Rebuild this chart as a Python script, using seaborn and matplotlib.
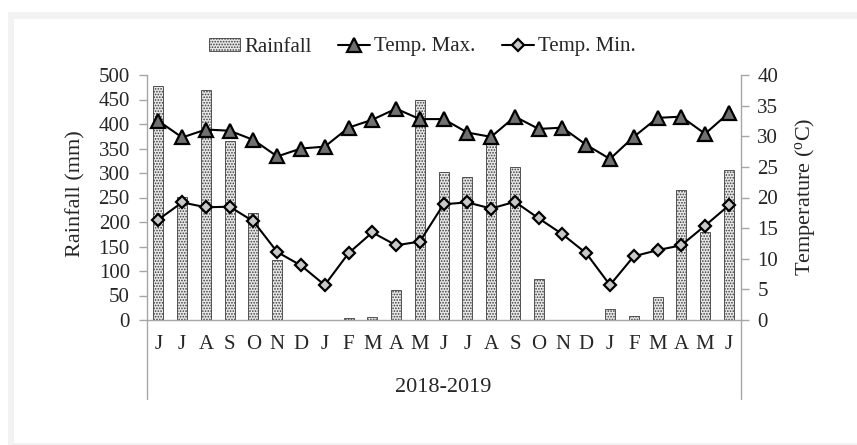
import numpy as np
import pandas as pd
import seaborn as sns
import matplotlib.pyplot as plt
from matplotlib.patches import Rectangle

months = ["J", "J", "A", "S", "O", "N", "D", "J", "F", "M", "A", "M",
          "J", "J", "A", "S", "O", "N", "D", "J", "F", "M", "A", "M", "J"]
rainfall = [477, 252, 470, 365, 218, 122, 0, 0, 4, 6, 62, 449,
            303, 291, 364, 312, 84, 0, 0, 23, 8, 47, 265, 179, 306]
temp_max = [32.5, 29.8, 31.1, 30.9, 29.4, 26.7, 28.0, 28.3, 31.4, 32.7, 34.5, 32.8,
            32.8, 30.6, 29.9, 33.2, 31.2, 31.4, 28.6, 26.3, 29.9, 33.0, 33.2, 30.4, 33.8]
temp_min = [16.4, 19.2, 18.4, 18.5, 16.1, 11.1, 8.9, 5.7, 10.9, 14.3, 12.2, 12.8,
            18.9, 19.2, 18.2, 19.3, 16.6, 14.0, 10.9, 5.7, 10.4, 11.4, 12.2, 15.4, 18.7]
period = "2018-2019"

df = pd.DataFrame({"pos": range(len(months)), "rain": rainfall,
                   "tmax": temp_max, "tmin": temp_min})

sns.set_style("white")
plt.rcParams["font.family"] = ["Liberation Serif", "DejaVu Serif"]
plt.rcParams["mathtext.default"] = "regular"
plt.rcParams["hatch.linewidth"] = 0.8

W, H = 857, 445
fig = plt.figure(figsize=(W / 100, H / 100), dpi=100)
# light grey frame around the chart
fig.add_artist(Rectangle((8 / W, 0), 1, 1 - 12 / H, transform=fig.transFigure,
                         facecolor="#f2f2f2", edgecolor="none", zorder=-10))
fig.add_artist(Rectangle((14 / W, 2 / H), 1, 1 - 21 / H, transform=fig.transFigure,
                         facecolor="white", edgecolor="none", zorder=-9))

ax = fig.add_axes([146.5 / W, 1 - 320 / H, (740.7 - 146.5) / W, (320 - 75) / H])
ax.patch.set_visible(False)
ax2 = ax.twinx()

sns.barplot(data=df, x="pos", y="rain", ax=ax, color="#e8e8e8", saturation=1,
            width=0.42, edgecolor="#3c3c3c", linewidth=0.6, hatch="......")

sns.lineplot(data=df, x="pos", y="tmax", ax=ax2, color="black", lw=1.5,
             marker="^", markersize=10, markerfacecolor="#707070",
             markeredgecolor="black", markeredgewidth=1.6)
sns.lineplot(data=df, x="pos", y="tmin", ax=ax2, color="black", lw=1.5,
             marker="D", markersize=6.5, markerfacecolor="#c8c8c8",
             markeredgecolor="black", markeredgewidth=1.6)

grey = "#a6a6a6"
ax.set_xlim(-0.5, len(months) - 0.5)
ax.set_ylim(0, 500)
ax.set_yticks(np.arange(0, 501, 50))
ax2.set_ylim(0, 40)
ax2.set_yticks(np.arange(0, 41, 5))
ax.set_xticks(range(len(months)))
ax.set_xticklabels(months)
ax.set_xticks(np.arange(-0.5, len(months), 1), minor=True)

ax.tick_params(axis="x", which="major", length=0, pad=11, labelsize=15)
ax.tick_params(axis="x", which="minor", length=5, color=grey, width=1, direction="out")
ax.tick_params(axis="y", length=6, color=grey, width=1, pad=6, labelsize=15, left=True)
ax2.tick_params(axis="y", length=6, color=grey, width=1, pad=6, labelsize=15, right=True)

for a in (ax, ax2):
    for s in a.spines.values():
        s.set_color(grey)
        s.set_linewidth(1)
    a.spines["top"].set_visible(False)
ax.spines["right"].set_visible(False)
ax2.spines["left"].set_visible(False)
ax2.spines["bottom"].set_visible(False)

ax.set_xlabel("")
ax2.set_xlabel("")
ax.set_ylabel("Rainfall (mm)", fontsize=16)
ax2.set_ylabel("Temperature ($^{o}$C)", fontsize=16)
ax.yaxis.label.set_va("center")
ax2.yaxis.label.set_va("center")
ax.yaxis.set_label_coords((76 - 146.5) / 594.2, (320 - 194) / 245)
ax2.yaxis.set_label_coords((805 - 146.5) / 594.2, (320 - 197) / 245)

# category group separators below the axis
ext = (320 - 399) / 245
for xv in (0, 1):
    ax.plot([xv, xv], [0, ext], transform=ax.transAxes, color=grey, lw=1, clip_on=False)
ax.text(0.5, (320 - 388) / 245, period, transform=ax.transAxes,
        ha="center", va="center", fontsize=16)

handles = [ax.containers[0], ax2.lines[0], ax2.lines[1]]
fig.legend(handles, ["Rainfall", "Temp. Max.", "Temp. Min."], loc="center",
           bbox_to_anchor=(422 / W, 1 - 47 / H), ncol=3, frameon=False,
           fontsize=15, handlelength=1.5, handleheight=0.6, handletextpad=0.2,
           columnspacing=1.3)

fig.savefig("out.png", dpi=100)
